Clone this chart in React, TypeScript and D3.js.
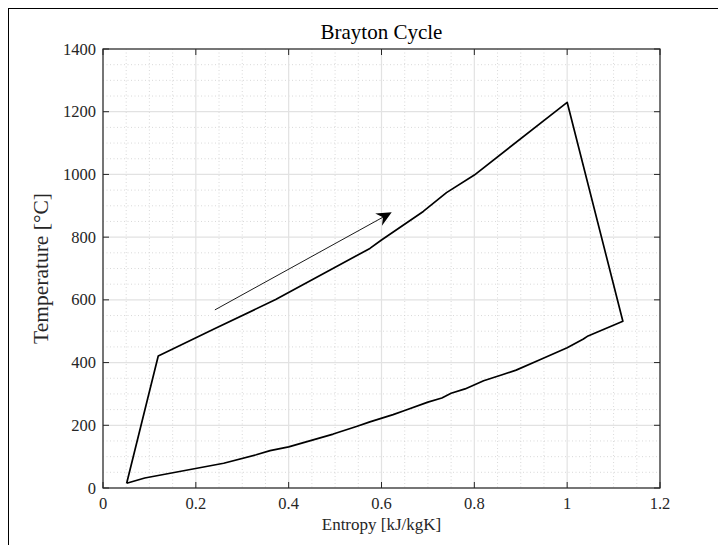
import React from "react";
import * as d3 from "d3";

const upperS = [0.051, 0.119, 0.238, 0.372, 0.575, 0.6, 0.69, 0.74, 0.8, 1.0, 1.12];
const upperT = [15, 421, 506, 601, 764, 791, 882, 942, 998, 1230, 532];
const lowerS = [1.12, 1.045, 1.035, 1.0, 0.94, 0.89, 0.86, 0.82, 0.78, 0.75, 0.73, 0.70, 0.65, 0.625, 0.575, 0.546, 0.496, 0.40, 0.36, 0.33, 0.26, 0.09, 0.051];
const lowerT = [532, 485, 475, 447, 408, 376, 361, 342, 316, 302, 287, 274, 247, 234, 211, 196, 172, 131, 119, 106, 79, 32, 15];
const arrowS = [0.241, 0.622];
const arrowT = [568, 879];
const xTicks = [0, 0.2, 0.4, 0.6, 0.8, 1, 1.2];
const yTicks = [0, 200, 400, 600, 800, 1000, 1200, 1400];
const title = "Brayton Cycle";
const xLabel = "Entropy [kJ/kgK]";
const yLabel = "Temperature [°C]";

export default function App() {
  const W = 718, H = 545;
  const L = 103, R = 660, T = 49, B = 488;
  const x = d3.scaleLinear().domain([0, 1.2]).range([L, R]);
  const y = d3.scaleLinear().domain([0, 1400]).range([B, T]);
  const xMinor = d3.range(0, 1.2001, 0.05).filter((v) => Math.abs(v / 0.2 - Math.round(v / 0.2)) > 1e-6);
  const yMinor = d3.range(0, 1400.1, 50).filter((v) => v % 200 !== 0);
  const pts: [number, number][] = [
    ...upperS.map((s, i) => [s, upperT[i]] as [number, number]),
    ...lowerS.map((s, i) => [s, lowerT[i]] as [number, number]),
  ];
  const line = d3.line<[number, number]>().x((d) => x(d[0])).y((d) => y(d[1]));
  const font = "'Liberation Serif', 'Times New Roman', serif";
  const tl = 6;

  const ax0 = x(arrowS[0]), ay0 = y(arrowT[0]), ax1 = x(arrowS[1]), ay1 = y(arrowT[1]);
  const ang = Math.atan2(ay1 - ay0, ax1 - ax0);
  const hl = 15, hw = 7, notch = 5;
  const ux = Math.cos(ang), uy = Math.sin(ang);
  const px = -uy, py = ux;
  const bx = ax1 - ux * hl, by = ay1 - uy * hl;
  const head = [
    [ax1, ay1],
    [bx + px * hw, by + py * hw],
    [ax1 - ux * (hl - notch), ay1 - uy * (hl - notch)],
    [bx - px * hw, by - py * hw],
  ];
  const lineEnd = [ax1 - ux * (hl - notch), ay1 - uy * (hl - notch)];

  return (
    <svg width={W} height={H} style={{ position: "fixed", left: 0, top: 0, background: "#fff" }}>
      <rect x={0} y={0} width={W} height={H} fill="#fff" />
      <rect x={8.5} y={8.5} width={W + 10} height={H + 10} fill="none" stroke="#000" strokeWidth={1} />
      {xMinor.map((v) => (
        <line key={"xm" + v} x1={x(v)} x2={x(v)} y1={T} y2={B} stroke="#cfcfcf" strokeWidth={0.8} strokeDasharray="1,2.5" />
      ))}
      {yMinor.map((v) => (
        <line key={"ym" + v} x1={L} x2={R} y1={y(v)} y2={y(v)} stroke="#cfcfcf" strokeWidth={0.8} strokeDasharray="1,2.5" />
      ))}
      {xTicks.map((v) => (
        <line key={"xg" + v} x1={x(v)} x2={x(v)} y1={T} y2={B} stroke="#e2e2e2" strokeWidth={1.2} />
      ))}
      {yTicks.map((v) => (
        <line key={"yg" + v} x1={L} x2={R} y1={y(v)} y2={y(v)} stroke="#e2e2e2" strokeWidth={1.2} />
      ))}
      <path d={line(pts) || ""} fill="none" stroke="#000" strokeWidth={1.7} strokeLinejoin="round" />
      <line x1={ax0} y1={ay0} x2={lineEnd[0]} y2={lineEnd[1]} stroke="#000" strokeWidth={0.9} />
      <polygon points={head.map((p) => p.join(",")).join(" ")} fill="#000" />
      <rect x={L} y={T} width={R - L} height={B - T} fill="none" stroke="#262626" strokeWidth={1.2} />
      {xTicks.map((v) => (
        <g key={"xt" + v}>
          <line x1={x(v)} x2={x(v)} y1={B} y2={B - tl} stroke="#262626" strokeWidth={1} />
          <line x1={x(v)} x2={x(v)} y1={T} y2={T + tl} stroke="#262626" strokeWidth={1} />
          <text x={x(v)} y={509} textAnchor="middle" fontFamily={font} fontSize={16.5} fill="#262626">
            {String(v)}
          </text>
        </g>
      ))}
      {yTicks.map((v) => (
        <g key={"yt" + v}>
          <line x1={L} x2={L + tl} y1={y(v)} y2={y(v)} stroke="#262626" strokeWidth={1} />
          <line x1={R} x2={R - tl} y1={y(v)} y2={y(v)} stroke="#262626" strokeWidth={1} />
          <text x={96} y={y(v) + 5.5} textAnchor="end" fontFamily={font} fontSize={16.5} fill="#262626">
            {String(v)}
          </text>
        </g>
      ))}
      <text x={(L + R) / 2} y={39} textAnchor="middle" fontFamily={font} fontSize={21} fill="#000">
        {title}
      </text>
      <text x={(L + R) / 2} y={530} textAnchor="middle" fontFamily={font} fontSize={17} fill="#262626">
        {xLabel}
      </text>
      <text
        transform={`translate(48,${(T + B) / 2}) rotate(-90)`}
        textAnchor="middle"
        fontFamily={font}
        fontSize={21.5}
        fill="#262626"
      >
        {yLabel}
      </text>
    </svg>
  );
}
